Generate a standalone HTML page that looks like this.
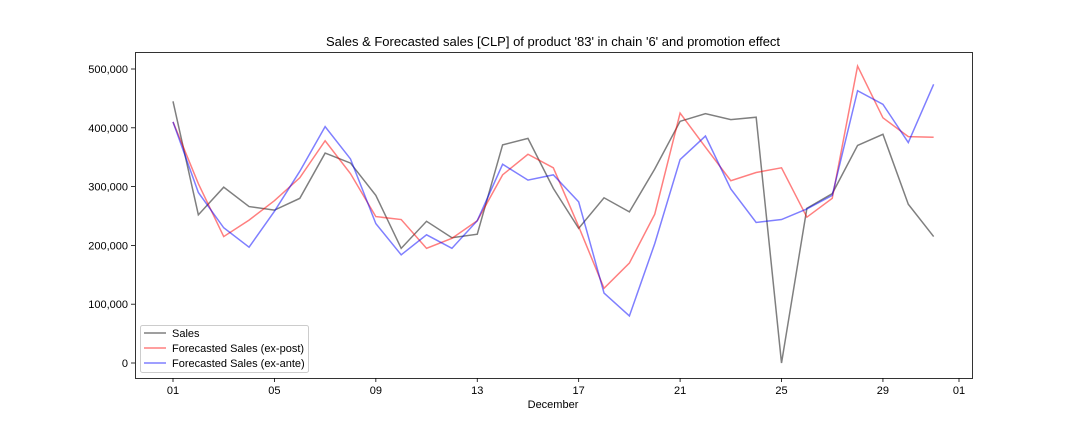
<!DOCTYPE html>
<html><head><meta charset="utf-8"><style>
body{margin:0;background:#fff;font-family:"Liberation Sans",sans-serif}
svg text{font-family:"Liberation Sans","DejaVu Sans",sans-serif;fill:#000}
</style></head><body>
<svg id="chart" width="1080" height="432" xmlns="http://www.w3.org/2000/svg">
<rect width="1080" height="432" fill="#fff"/>
<text x="553" y="46" font-size="13" text-anchor="middle">Sales &amp; Forecasted sales [CLP] of product '83' in chain '6' and promotion effect</text>
<g id="marks"></g>
<rect x="135.5" y="52.5" width="837" height="326" fill="none" stroke="#000" stroke-width="0.8"/>
<text x="553" y="408" font-size="11" text-anchor="middle">December</text>
<g>
<rect x="140.5" y="325.5" width="168" height="47" rx="2" fill="#fff" stroke="#ccc"/>
<line x1="144" y1="333" x2="166" y2="333" stroke="#000" stroke-opacity="0.5" stroke-width="1.5"/>
<text x="172" y="337" font-size="11">Sales</text>
<line x1="144" y1="348" x2="166" y2="348" stroke="#f00" stroke-opacity="0.5" stroke-width="1.5"/>
<text x="172" y="352" font-size="11">Forecasted Sales (ex-post)</text>
<line x1="144" y1="363" x2="166" y2="363" stroke="#00f" stroke-opacity="0.5" stroke-width="1.5"/>
<text x="172" y="367" font-size="11">Forecasted Sales (ex-ante)</text>
</g>
</svg>
<script>
const days = [1,2,3,4,5,6,7,8,9,10,11,12,13,14,15,16,17,18,19,20,21,22,23,24,25,26,27,28,29,30,31];
const sales = [445,252,299,266,260,280,357,340,285,195,241,213,219,371,382,297,229,281,257,330,411,424,414,418,0,263,288,370,389,270,215];
const exPost = [410,305,215,243,276,315,378,322,249,244,195,212,242,320,355,332,232,127,170,253,425,367,310,324,332,248,280,505,417,385,384];
const exAnte = [410,290,230,197,258,326,402,347,237,184,218,195,242,338,311,320,274,119,80,203,346,386,296,239,244,262,285,463,440,375,474];
const yTicks = [0,100,200,300,400,500];
const yTickLabels = ["0","100,000","200,000","300,000","400,000","500,000"];
const xTicks = [1,5,9,13,17,21,25,29,32];
const xTickLabels = ["01","05","09","13","17","21","25","29","01"];

const NS="http://www.w3.org/2000/svg";
const svg=document.getElementById('chart');
const marks=document.getElementById('marks');
function xs(d){return 173+(d-1)*(959-173)/31;}
function ys(v){return 363-v*0.588;}
function mk(tag,attrs){const e=document.createElementNS(NS,tag);for(const k in attrs)e.setAttribute(k,attrs[k]);return e;}
yTicks.forEach((t,i)=>{
  const y=ys(t);
  const l=mk('line',{x1:131,x2:135,y1:y,y2:y,stroke:'#000','stroke-width':0.8});
  
  
  svg.appendChild(l);
  const tx=mk('text',{x:128,y:y+4,'font-size':11,'text-anchor':'end'});
  tx.textContent=yTickLabels[i];
  
  
  svg.appendChild(tx);
});
xTicks.forEach((t,i)=>{
  const x=xs(t);
  const l=mk('line',{x1:x,x2:x,y1:378,y2:382,stroke:'#000','stroke-width':0.8});
  
  
  svg.appendChild(l);
  const tx=mk('text',{x:x,y:394,'font-size':11,'text-anchor':'middle'});
  tx.textContent=xTickLabels[i];
  
  
  svg.appendChild(tx);
});
function line(vals,color,name){
  const p=mk('polyline',{points:vals.map((v,i)=>xs(days[i])+','+ys(v)).join(' '),fill:'none',stroke:color,'stroke-opacity':0.5,'stroke-width':1.5});
  
  
  marks.appendChild(p);
}
line(sales,'#000','sales-line');
line(exPost,'#f00','ex-post-line');
line(exAnte,'#00f','ex-ante-line');
</script>
</body></html>
